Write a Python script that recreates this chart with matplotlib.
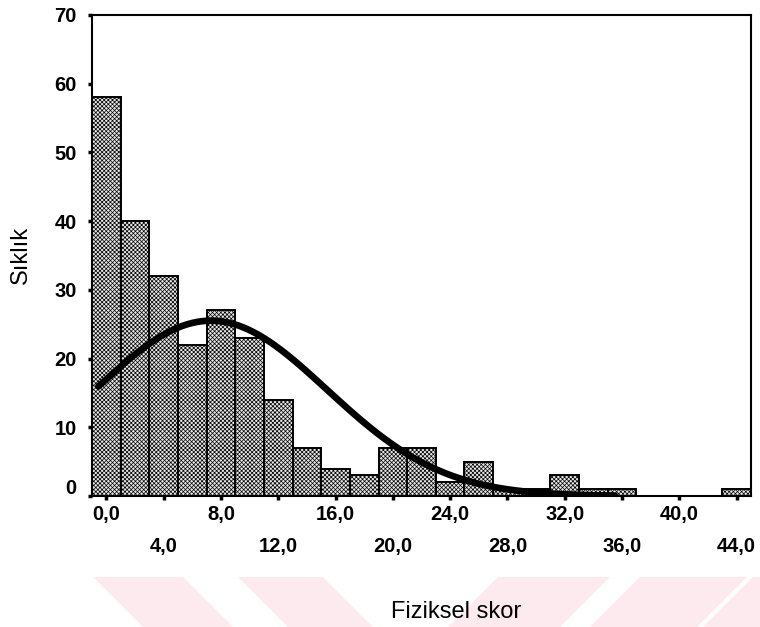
import numpy as np
import matplotlib
matplotlib.use("Agg")
import matplotlib.pyplot as plt
from matplotlib.patches import Polygon
from matplotlib.transforms import ScaledTranslation

# histogram of physical score (bin width 2, centred on even values)
bin_centers = [0, 2, 4, 6, 8, 10, 12, 14, 16, 18, 20, 22,
               24, 26, 28, 30, 32, 34, 36, 38, 40, 42, 44]
counts = [58, 40, 32, 22, 27, 23, 14, 7, 4, 3, 7, 7,
          2, 5, 1, 1, 3, 1, 1, 0, 0, 0, 1]
bin_width = 2.0

# fitted normal curve
fit_mean = 7.3
fit_sd = 8.1
curve_start, curve_end = -0.56, 35.5

row1_ticks = [0, 8, 16, 24, 32, 40]
row2_ticks = [4, 12, 20, 28, 36, 44]
y_ticks = [0, 10, 20, 30, 40, 50, 60, 70]

plt.rcParams["font.family"] = ["Liberation Sans", "DejaVu Sans"]
plt.rcParams["hatch.linewidth"] = 0.5

W, H = 760, 627
fig = plt.figure(figsize=(W / 100, H / 100), dpi=100)

# faint pink watermark bands along the bottom
pink = "#fdeaee"
bands = [
    [(93, 577), (183, 577), (233, 627), (143, 627)],
    [(238, 577), (323, 577), (373, 627), (288, 627)],
    [(498, 577), (610, 577), (560, 627), (448, 627)],
    [(640, 577), (747, 577), (697, 627), (590, 627)],
    [(753, 577), (800, 577), (800, 627), (703, 627)],
]
for band in bands:
    pts = [(x / W, 1 - y / H) for x, y in band]
    fig.patches.append(Polygon(pts, closed=True, transform=fig.transFigure,
                               facecolor=pink, edgecolor="none", zorder=0))

ax = fig.add_axes([92 / W, 1 - 496 / H, (751 - 92) / W, (496 - 15) / H])

ax.bar(bin_centers, counts, width=bin_width, facecolor="#e6e6e6",
       edgecolor="black", linewidth=1.4, hatch="xxxxxxxx", zorder=2)

n_total = sum(counts)
xs = np.linspace(curve_start, curve_end, 300)
ys = n_total * bin_width / (fit_sd * np.sqrt(2 * np.pi)) * np.exp(-0.5 * ((xs - fit_mean) / fit_sd) ** 2)
ax.plot(xs, ys, color="black", linewidth=4.8, solid_capstyle="round", zorder=3)

ax.set_xlim(-1, 45)
ax.set_ylim(0, 70)

ax.set_yticks(y_ticks)
ax.set_yticklabels([str(v) for v in y_ticks])
ax.set_xticks(row1_ticks)
ax.set_xticklabels([f"{v:.1f}".replace(".", ",") for v in row1_ticks])
ax.set_xticks(row2_ticks, minor=True)
ax.set_xticklabels([f"{v:.1f}".replace(".", ",") for v in row2_ticks], minor=True)

ax.tick_params(axis="both", which="both", direction="out", length=3, width=2.5,
               labelsize=14.5, colors="black")
ax.tick_params(axis="x", which="major", pad=3.6)
ax.tick_params(axis="x", which="minor", pad=26.6)
ax.tick_params(axis="y", pad=8)
for lab in ax.get_xticklabels(which="both") + ax.get_yticklabels():
    lab.set_fontweight("bold")

# the zero label sits a little above its tick in the original
zero_label = ax.get_yticklabels()[0]
zero_label.set_transform(zero_label.get_transform()
                         + ScaledTranslation(0, 10 / 100, fig.dpi_scale_trans))

for spine in ax.spines.values():
    spine.set_linewidth(1.5)
    spine.set_color("black")

fig.text(21 / W, 1 - 255 / H, "Sıklık", rotation=90, ha="center", va="center",
         fontsize=17)
fig.text(456 / W, 1 - 618 / H, "Fiziksel skor", ha="center", va="baseline",
         fontsize=17)

fig.savefig("out.png", dpi=100)
